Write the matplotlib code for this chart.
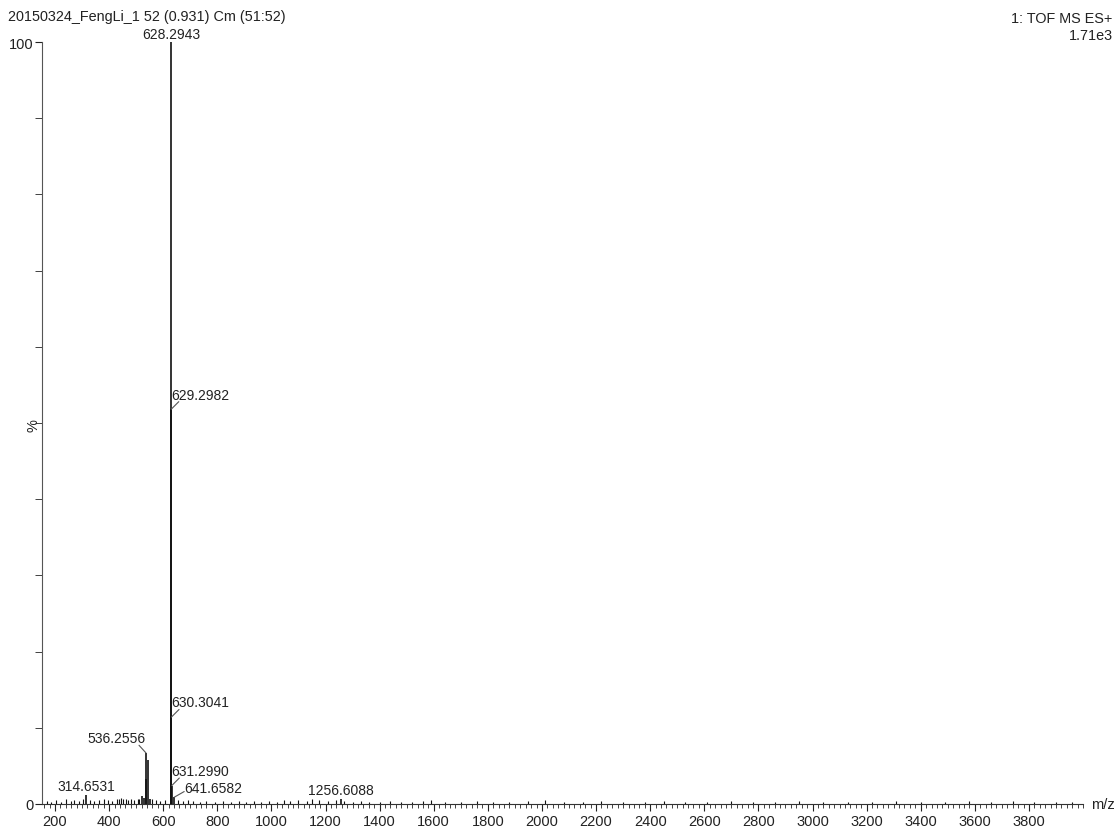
import matplotlib.pyplot as plt
from matplotlib.ticker import MultipleLocator

plt.rcParams['font.family'] = ['Liberation Sans', 'DejaVu Sans']

# picos principais (m/z, intensidade %)
pico_mz = [314.6531, 520.2, 528.3, 536.2556, 537.26, 544.26, 552.3,
           628.2943, 629.2982, 630.3041, 631.2990, 641.6582, 1256.6088]
pico_int = [1.2, 1.0, 0.8, 6.7, 3.3, 5.8, 0.7,
            100.0, 51.8, 11.4, 2.4, 0.9, 0.7]

# ruido de fundo (estimado)
ruido_mz = [170, 185, 205, 222, 240, 258, 271, 290, 302, 330, 345, 362, 380,
            395, 410, 428, 436, 445, 452, 463, 470, 480, 492, 505, 512, 560,
            575, 590, 605, 655, 672, 690, 710, 735, 760, 790, 820, 850, 880,
            905, 935, 960, 990, 1020, 1045, 1070, 1100, 1130, 1150, 1175, 1210,
            1240, 1270, 1300, 1330, 1360, 1400, 1440, 1480, 1520, 1560, 1590,
            1640, 1700, 1760, 1820, 1880, 1950, 2010, 2080, 2150, 2220, 2300,
            2380, 2450, 2530, 2610, 2700, 2780, 2860, 2950, 3040, 3130, 3220,
            3310, 3400, 3490, 3580, 3660, 3740, 3820, 3900, 3960]
ruido_int = [0.4, 0.3, 0.5, 0.3, 0.6, 0.4, 0.5, 0.4, 0.6, 0.5, 0.4, 0.5, 0.6,
             0.5, 0.4, 0.7, 0.6, 0.8, 0.6, 0.7, 0.5, 0.6, 0.5, 0.6, 0.7, 0.6,
             0.5, 0.4, 0.5, 0.5, 0.4, 0.5, 0.4, 0.3, 0.4, 0.3, 0.4, 0.3, 0.4,
             0.3, 0.4, 0.3, 0.4, 0.3, 0.5, 0.4, 0.5, 0.4, 0.6, 0.5, 0.4,
             0.5, 0.4, 0.3, 0.4, 0.3, 0.3, 0.4, 0.3, 0.3, 0.4, 0.5,
             0.3, 0.3, 0.4, 0.3, 0.3, 0.4, 0.5, 0.3, 0.3, 0.4, 0.3,
             0.3, 0.4, 0.3, 0.3, 0.4, 0.3, 0.3, 0.4, 0.3, 0.3, 0.3,
             0.4, 0.3, 0.3, 0.4, 0.3, 0.4, 0.3, 0.3, 0.3]

# rotulos: m/z, intensidade, texto e lado da linha guia (0 = sem linha)
rot_mz = [628.2943, 629.2982, 630.3041, 631.2990, 641.6582, 536.2556, 314.6531, 1256.6088]
rot_int = [100.0, 51.8, 11.4, 2.4, 0.9, 6.7, 1.2, 0.7]
rot_txt = ['628.2943', '629.2982', '630.3041', '631.2990', '641.6582',
           '536.2556', '314.6531', '1256.6088']
rot_lado = [0, 1, 1, 1, 2, -1, 0, 0]

fig = plt.figure(figsize=(11.17, 8.29), dpi=100)
ax = fig.add_axes([0.0376, 0.029, 0.932, 0.919])

cor = '#111111'
ax.vlines(ruido_mz, 0, ruido_int, color=cor, lw=0.8)
ax.vlines(pico_mz, 0, pico_int, color=cor, lw=1.2)

est = dict(fontsize=10, color='#222222', textcoords='offset points')
linha = dict(arrowstyle='-', color='#555555', lw=0.8, shrinkA=0, shrinkB=0)
for mz, it, txt, lado in zip(rot_mz, rot_int, rot_txt, rot_lado):
    if lado == 0:
        ax.annotate(txt, xy=(mz, it), xytext=(0, 1), ha='center', va='bottom', **est)
    elif lado == 1:
        ax.annotate('', xy=(mz, it), xytext=(5.5, 5.5), textcoords='offset points',
                    arrowprops=linha)
        ax.annotate(txt, xy=(mz, it), xytext=(0, 5.5), ha='left', va='bottom', **est)
    elif lado == 2:
        ax.annotate('', xy=(mz, it), xytext=(7, 4), textcoords='offset points',
                    arrowprops=linha)
        ax.annotate(txt, xy=(mz, it), xytext=(7, 1.5), ha='left', va='bottom', **est)
    else:
        ax.annotate('', xy=(mz, it), xytext=(-5, 5.5), textcoords='offset points',
                    arrowprops=linha)
        ax.annotate(txt, xy=(mz, it), xytext=(0, 5.5), ha='right', va='bottom', **est)

ax.spines['top'].set_visible(False)
ax.spines['right'].set_visible(False)
ax.spines['left'].set_color('#555555')
ax.spines['bottom'].set_color('#333333')

ax.set_xticks(range(200, 3801, 200))
ax.xaxis.set_minor_locator(MultipleLocator(20))
ax.set_xlim(152, 4000)
ax.set_ylim(0, 100)
ax.tick_params(axis='x', which='major', direction='out', length=5, pad=2,
               labelsize=10.5, colors='#222222')
ax.tick_params(axis='x', which='minor', direction='out', length=3, color='#222222')

ax.set_yticks([0, 100])
ax.yaxis.set_minor_locator(MultipleLocator(10))
ax.tick_params(axis='y', which='both', direction='out', length=5, pad=1,
               labelsize=10.5, colors='#222222')

fig.text(0.0376 - 0.001, 0.487, '%', rotation=90, fontsize=10.5,
         ha='right', va='center', color='#222222')
fig.text(0.977, 0.029, 'm/z', fontsize=10.5, ha='left', va='center', color='#222222')
fig.text(0.007, 0.979, '20150324_FengLi_1 52 (0.931) Cm (51:52)', fontsize=10.4,
         ha='left', va='center', color='#222222')
fig.text(0.996, 0.977, '1: TOF MS ES+', fontsize=10.4, ha='right', va='center',
         color='#222222')
fig.text(0.996, 0.956, '1.71e3', fontsize=10.4, ha='right', va='center',
         color='#222222')

fig.savefig('out.png', dpi=100)
